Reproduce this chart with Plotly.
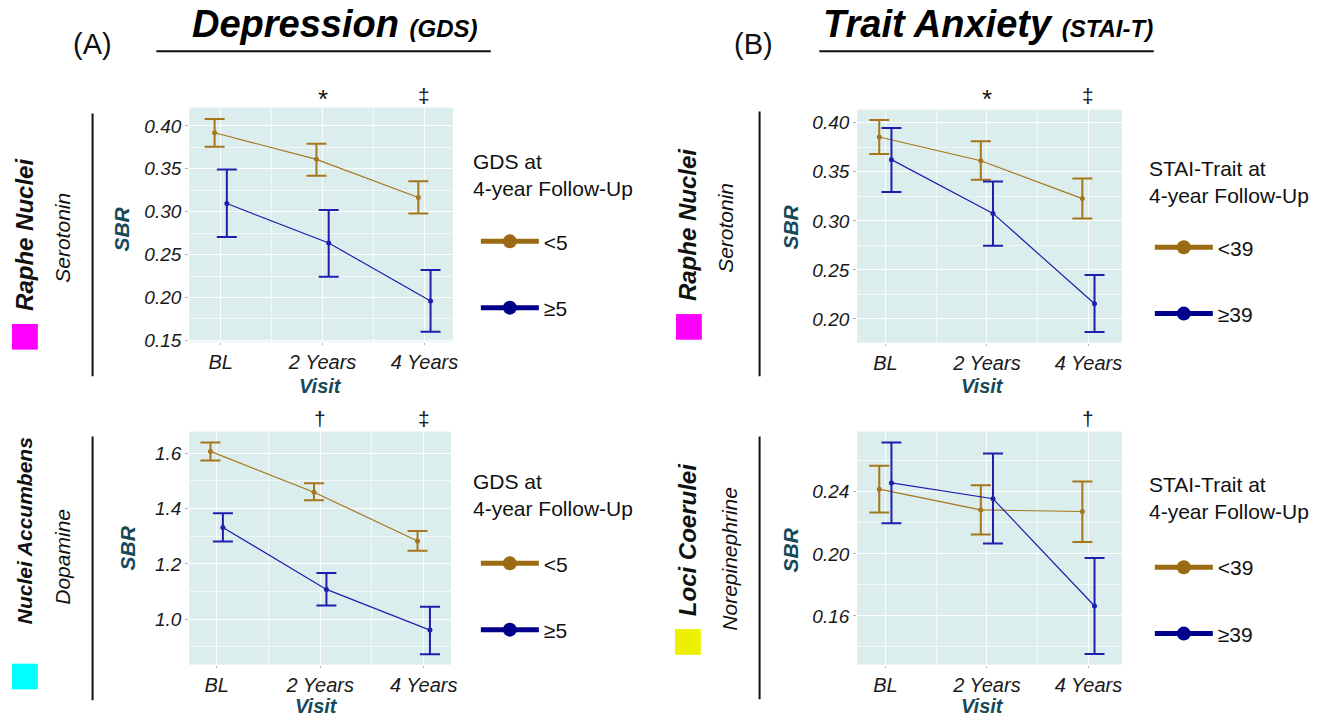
import plotly.graph_objects as go

# ---------------- data ----------------
visits = ["BL", "2 Years", "4 Years"]

# (A) Depression (GDS) - Raphe Nuclei (Serotonin)
gds_rn_low_mean = [0.392, 0.361, 0.3165]
gds_rn_low_hi = [0.408, 0.379, 0.3355]
gds_rn_low_lo = [0.3755, 0.342, 0.298]
gds_rn_high_mean = [0.3095, 0.2635, 0.196]
gds_rn_high_hi = [0.349, 0.302, 0.232]
gds_rn_high_lo = [0.2705, 0.2242, 0.160]

# (A) Depression (GDS) - Nuclei Accumbens (Dopamine)
gds_na_low_mean = [1.607, 1.4595, 1.283]
gds_na_low_hi = [1.639, 1.492, 1.319]
gds_na_low_lo = [1.574, 1.430, 1.2475]
gds_na_high_mean = [1.332, 1.108, 0.961]
gds_na_high_hi = [1.383, 1.167, 1.045]
gds_na_high_lo = [1.281, 1.050, 0.874]

# (B) Trait Anxiety (STAI-T) - Raphe Nuclei (Serotonin)
stai_rn_low_mean = [0.3855, 0.3613, 0.3227]
stai_rn_low_hi = [0.4027, 0.3812, 0.3432]
stai_rn_low_lo = [0.3681, 0.3418, 0.3025]
stai_rn_high_mean = [0.3624, 0.3076, 0.2155]
stai_rn_high_hi = [0.3946, 0.3402, 0.2447]
stai_rn_high_lo = [0.3294, 0.2746, 0.1866]

# (B) Trait Anxiety (STAI-T) - Loci Coerulei (Norepinephrine)
stai_lc_low_mean = [0.2417, 0.2283, 0.2273]
stai_lc_low_hi = [0.2568, 0.2442, 0.2466]
stai_lc_low_lo = [0.2266, 0.2124, 0.2077]
stai_lc_high_mean = [0.2457, 0.2355, 0.1664]
stai_lc_high_hi = [0.2718, 0.2646, 0.1973]
stai_lc_high_lo = [0.2198, 0.2067, 0.1354]

gds_groups = ["<5", "\u22655"]
stai_groups = ["<39", "\u226539"]

# ---------------- style ----------------
W, H = 1338, 726
FONT = "Liberation Sans, Arial, Helvetica, sans-serif"
ORANGE = "#A6761D"
BLUE = "#1F1FAE"
LEG_ORANGE = "#9C6A12"
LEG_BLUE = "#00008B"
TEAL = "#16495A"
BG = "#DBEEED"
DODGE = 0.06


def px(x):
    return x / W


def py(y):
    return 1 - y / H


fig = go.Figure()

panels = [
    dict(ax="", dom_x=(190, 455), dom_y=(109, 346), xr=(0.69, 3.28), yr=(0.1485, 0.4212),
         yt=[0.15, 0.20, 0.25, 0.30, 0.35, 0.40], fmt=".2f", groups=gds_groups, legend="legend",
         low=(gds_rn_low_mean, gds_rn_low_hi, gds_rn_low_lo),
         high=(gds_rn_high_mean, gds_rn_high_hi, gds_rn_high_lo)),
    dict(ax="2", dom_x=(190, 453), dom_y=(437, 673), xr=(0.734, 3.263), yr=(0.836, 1.6786),
         yt=[1.0, 1.2, 1.4, 1.6], fmt=".1f", groups=gds_groups, legend="legend2",
         low=(gds_na_low_mean, gds_na_low_hi, gds_na_low_lo),
         high=(gds_na_high_mean, gds_na_high_hi, gds_na_high_lo)),
    dict(ax="3", dom_x=(861, 1127), dom_y=(111, 347), xr=(0.722, 3.33), yr=(0.1758, 0.4134),
         yt=[0.20, 0.25, 0.30, 0.35, 0.40], fmt=".2f", groups=stai_groups, legend="legend3",
         low=(stai_rn_low_mean, stai_rn_low_hi, stai_rn_low_lo),
         high=(stai_rn_high_mean, stai_rn_high_hi, stai_rn_high_lo)),
    dict(ax="4", dom_x=(861, 1127), dom_y=(437, 673), xr=(0.722, 3.33), yr=(0.1286, 0.2788),
         yt=[0.16, 0.20, 0.24], fmt=".2f", groups=stai_groups, legend="legend4",
         low=(stai_lc_low_mean, stai_lc_low_hi, stai_lc_low_lo),
         high=(stai_lc_high_mean, stai_lc_high_hi, stai_lc_high_lo)),
]

pos = list(range(1, len(visits) + 1))

for p in panels:
    xa = "x" + p["ax"]
    ya = "y" + p["ax"]
    for (mean, hi, lo), col, off, lcol, name in [
        (p["low"], ORANGE, -DODGE, LEG_ORANGE, p["groups"][0]),
        (p["high"], BLUE, DODGE, LEG_BLUE, p["groups"][1]),
    ]:
        fig.add_trace(go.Scatter(
            x=[v + off for v in pos], y=mean, xaxis=xa, yaxis=ya,
            mode="lines+markers",
            line=dict(color=col, width=1.2),
            marker=dict(color=col, size=5),
            error_y=dict(type="data", symmetric=False,
                         array=[h - m for h, m in zip(hi, mean)],
                         arrayminus=[m - l for m, l in zip(mean, lo)],
                         color=col, thickness=2, width=10),
            showlegend=False, hoverinfo="skip"))
        # legend entry
        fig.add_trace(go.Scatter(
            x=[None], y=[None], xaxis=xa, yaxis=ya, name=name,
            mode="lines+markers", line=dict(color=lcol, width=5),
            marker=dict(color=lcol, size=14),
            legend=p["legend"], legendgroup=p["legend"] + name, showlegend=True))

    xkey = "xaxis" + p["ax"]
    ykey = "yaxis" + p["ax"]
    fig.layout[xkey] = dict(
        domain=[px(p["dom_x"][0]), px(p["dom_x"][1])], anchor=ya, range=list(p["xr"]),
        tickvals=pos, ticktext=visits,
        tickfont=dict(family=FONT, size=20, color="#1a1a1a", style="italic"),
        ticks="outside", ticklen=2, tickcolor="#b5b5b5", showline=False, zeroline=False,
        showgrid=True, gridcolor="rgba(255,255,255,0.9)", gridwidth=1,
        minor=dict(tickvals=[1.5, 2.5], showgrid=True, gridcolor="rgba(255,255,255,0.6)", gridwidth=0.6),
        fixedrange=True)
    fig.layout[ykey] = dict(
        domain=[py(p["dom_y"][1]), py(p["dom_y"][0])], anchor=xa, range=list(p["yr"]),
        tickvals=p["yt"], tickformat=p["fmt"],
        tickfont=dict(family=FONT, size=19, color="#1a1a1a", style="italic"),
        ticks="outside", ticklen=3, tickcolor="#b5b5b5", showline=False, zeroline=False,
        showgrid=True, gridcolor="rgba(255,255,255,0.9)", gridwidth=1,
        minor=dict(dtick=(p["yt"][1] - p["yt"][0]) / 2, showgrid=True,
                   gridcolor="rgba(255,255,255,0.6)", gridwidth=0.6, ticklen=0),
        fixedrange=True)

# legends
leg_common = dict(font=dict(family=FONT, size=21, color="#111"), bgcolor="rgba(0,0,0,0)",
                  traceorder="grouped", tracegroupgap=36, xanchor="left", yanchor="top",
                  itemwidth=58)
fig.update_layout(
    legend=dict(x=px(478), y=py(224), **leg_common),
    legend2=dict(x=px(478), y=py(550), **leg_common),
    legend3=dict(x=px(1155), y=py(230), **leg_common),
    legend4=dict(x=px(1155), y=py(554), **leg_common),
)

ann = []


def add(x, y, text, size, color="#111", angle=0, xref="paper", align="center"):
    ann.append(dict(x=x, y=py(y), xref=xref, yref="paper", text=text, showarrow=False,
                    xanchor="center", yanchor="middle", textangle=angle, align=align,
                    font=dict(family=FONT, size=size, color=color)))


# legend titles
for x, y, t in [(473, 150, "GDS at<br>4-year Follow-Up"), (473, 474, "GDS at<br>4-year Follow-Up"),
                (1152, 157, "STAI-Trait at<br>4-year Follow-Up"), (1152, 477, "STAI-Trait at<br>4-year Follow-Up")]:
    ann.append(dict(x=px(x), y=py(y), xref="paper", yref="paper", xanchor="left", yanchor="top",
                    align="left", text=t, showarrow=False, font=dict(family=FONT, size=21, color="#111")))

# headers
add(px(93), 45, "(A)", 29)
add(px(757), 45, "(B)", 29)
add(px(337), 24, "<b><i>Depression</i></b> <b><i><span style='font-size:24px'>(GDS)</span></i></b>", 38, "#000")
add(px(992), 24, "<b><i>Trait Anxiety</i></b> <b><i><span style='font-size:24px'>(STAI-T)</span></i></b>", 38, "#000")

# axis titles
for x, y in [(122, 232), (128, 555), (794, 230), (794, 557)]:
    add(px(x), y, "<b><i>SBR</i></b>", 21, TEAL, -90)
for x, y in [(322, 391), (318, 715), (987, 391), (987, 715)]:
    add(px(x), y, "<b><i>Visit</i></b>", 20, TEAL)

# significance markers (placed at visit positions)
for ax, vi, y, t, s in [("x", 2, 100, "*", 26), ("x", 3, 97, "\u2021", 21),
                        ("x2", 2, 424, "\u2020", 21), ("x2", 3, 424, "\u2021", 21),
                        ("x3", 2, 100, "*", 26), ("x3", 3, 97, "\u2021", 21),
                        ("x4", 3, 424, "\u2020", 21)]:
    add(vi, y, t, s, "#111", 0, ax)

# side region labels
for x, y, t, s in [(24, 237, "<b><i>Raphe Nuclei</i></b>", 24), (62, 241, "<i>Serotonin</i>", 21),
                   (24, 537, "<b><i>Nuclei Accumbens</i></b>", 21), (62, 564, "<i>Dopamine</i>", 21),
                   (690, 227, "<b><i>Raphe Nuclei</i></b>", 24), (728, 231, "<i>Serotonin</i>", 21),
                   (690, 546, "<b><i>Loci Coerulei</i></b>", 24), (733, 566, "<i>Norepinephrine</i>", 21)]:
    add(px(x), y, t, s, "#111", -90)

fig.update_layout(annotations=ann)

shapes = []
# header underlines
for x0, x1 in [(157, 493), (823, 1159)]:
    shapes.append(dict(type="line", xref="paper", yref="paper", x0=px(x0), x1=px(x1), y0=py(52), y1=py(52),
                       line=dict(color="#111", width=2)))
# vertical separators
for x, y0, y1 in [(93, 115, 381), (93, 442, 709), (763, 113, 381), (763, 442, 708)]:
    shapes.append(dict(type="line", xref="paper", yref="paper", x0=px(x), x1=px(x), y0=py(y0), y1=py(y1),
                       line=dict(color="#111", width=2)))
# region colour squares
for x0, y0, col in [(12, 328, "#FF00FF"), (12, 672, "#00FFFF"), (679, 318, "#FF00FF"), (678, 637, "#EEF000")]:
    shapes.append(dict(type="rect", xref="paper", yref="paper", x0=px(x0), x1=px(x0 + 26), y0=py(y0 + 26), y1=py(y0),
                       fillcolor=col, line=dict(width=0)))
fig.update_layout(shapes=shapes)

fig.update_layout(width=W, height=H, margin=dict(l=0, r=0, t=0, b=0),
                  paper_bgcolor="white", plot_bgcolor=BG,
                  font=dict(family=FONT), hovermode=False)

fig.write_html("out.html", config={"displayModeBar": False},
               post_script="document.body.style.margin='0';document.body.style.overflow='hidden';")
